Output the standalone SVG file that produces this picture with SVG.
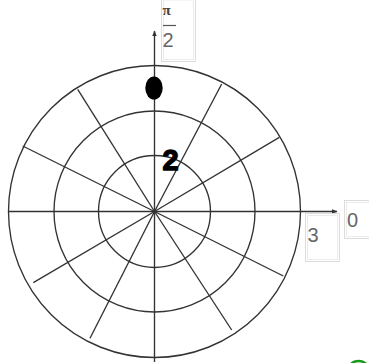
<svg xmlns="http://www.w3.org/2000/svg" width="369" height="363" viewBox="0 0 369 363">
<style>
.grid{fill:none;stroke:#333;stroke-width:1.35}
.box1{fill:#fff;stroke:#dcdcdc;stroke-width:1}
.box2{fill:none;stroke:#ececec;stroke-width:1}
.lbl{font-family:"Liberation Sans",Arial,sans-serif;fill:#666;font-size:20px}
</style>
<defs>
<marker id="arr" viewBox="0 0 10 10" refX="9" refY="5" markerWidth="6" markerHeight="6" orient="auto" markerUnits="userSpaceOnUse">
<path d="M0,1 L10,5 L0,9 Z" fill="#333"/>
</marker>
</defs>
<rect width="369" height="363" fill="#fff"/>
<g id="circles">
<circle class="grid" cx="154.5" cy="211.5" r="56"/>
<circle class="grid" cx="154.5" cy="211.5" r="100.5"/>
<circle class="grid" cx="154.5" cy="211.5" r="146"/>
</g>
<g id="connectors">
<line class="grid" x1="154.5" y1="211.5" x2="221.7" y2="84"/>
<line class="grid" x1="154.5" y1="211.5" x2="279.3" y2="137.3"/>
<line class="grid" x1="154.5" y1="211.5" x2="22.7" y2="146"/>
<line class="grid" x1="154.5" y1="211.5" x2="77.7" y2="89.3"/>
<line class="grid" x1="154.5" y1="211.5" x2="33.3" y2="282.7"/>
<line class="grid" x1="154.5" y1="211.5" x2="90" y2="338.3"/>
<line class="grid" x1="154.5" y1="211.5" x2="231.7" y2="330"/>
<line class="grid" x1="154.5" y1="211.5" x2="283.3" y2="276"/>
<line class="grid" x1="154.5" y1="362" x2="154.5" y2="31" marker-end="url(#arr)"/>
<line class="grid" x1="8" y1="211.5" x2="337" y2="211.5" marker-end="url(#arr)"/>
</g>
<g id="label-pi2">
<rect class="box1" x="161.5" y="-2" width="34" height="63.5"/>
<rect class="box2" x="163.5" y="0" width="30" height="59.5"/>
<text x="162.5" y="15" style="font-family:'Liberation Serif',serif;font-weight:bold;font-size:15px;fill:#444">π</text>
<line x1="163" y1="25.5" x2="176" y2="25.5" stroke="#555" stroke-width="1.2"/>
<text x="162.5" y="46.5" class="lbl">2</text>
</g>
<g id="label-0">
<rect class="box1" x="344.5" y="200.5" width="30" height="38"/>
<rect class="box2" x="346.5" y="202.5" width="26" height="34"/>
<text x="347" y="227" class="lbl">0</text>
</g>
<g id="label-3">
<rect class="box1" x="305.5" y="213.5" width="34" height="48"/>
<rect class="box2" x="307.5" y="215.5" width="30" height="44"/>
<text x="307.5" y="242" class="lbl">3</text>
</g>
<g id="point">
<ellipse cx="154" cy="88" rx="8.7" ry="11.5" fill="#000"/>
</g>
<g id="label-2">
<text x="162.5" y="169.5" style="font-family:'Liberation Sans',Arial,sans-serif;font-weight:bold;font-size:29px;fill:#000;stroke:#000;stroke-width:1.4;stroke-linejoin:round">2</text>
</g>
<g id="green">
<circle cx="358.5" cy="372" r="11" fill="none" stroke="#1a9a1a" stroke-width="2.5"/>
</g>
</svg>
